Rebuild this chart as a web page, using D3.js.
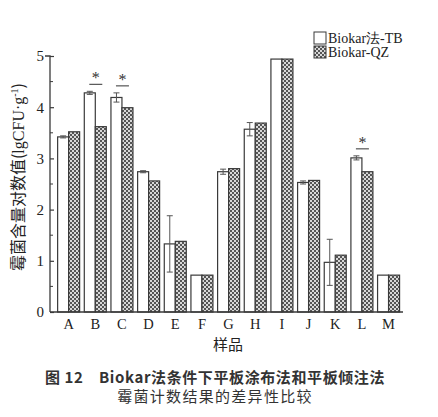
<!DOCTYPE html>
<html><head><meta charset="utf-8">
<script src="https://cdn.jsdelivr.net/npm/d3@7"></script>
<style>body{margin:0;background:#fff}</style>
</head><body>
<svg id="c" width="438" height="417"></svg>
<script>
const categories = ["A","B","C","D","E","F","G","H","I","J","K","L","M"];
const seriesNames = ["Biokar法-TB","Biokar-QZ"];
const tbValues = [3.42,4.28,4.19,2.74,1.33,0.72,2.74,3.57,4.94,2.53,0.97,3.01,0.72];
const tbErrors = [0.02,0.03,0.09,0.02,0.55,0,0.05,0.13,0,0.03,0.45,0.04,0];
const qzValues = [3.52,3.62,3.99,2.56,1.38,0.72,2.80,3.69,4.94,2.57,1.11,2.74,0.72];
const significant = ["B","C","L"];
const yTicks = [0,1,2,3,4,5];
const yMinorTicks = [0.5,1.5,2.5,3.5,4.5];

const svg = d3.select("#c");
const defs = svg.append("defs");
const pat = defs.append("pattern").attr("id","chk").attr("patternUnits","userSpaceOnUse")
  .attr("width",4).attr("height",4);
pat.append("rect").attr("width",4).attr("height",4).attr("fill","#d8d8d8");
pat.append("rect").attr("x",0).attr("y",0).attr("width",2).attr("height",2).attr("fill","#555");
pat.append("rect").attr("x",2).attr("y",2).attr("width",2).attr("height",2).attr("fill","#555");

const axL = 50, axR = 403, axB = 312, axT = 56;
const y = d3.scaleLinear().domain([0,5]).range([axB, axT]);
const x = d3.scaleBand().domain(categories).range([55.3, 401.9]).paddingInner(0).paddingOuter(0);
const bw = 11;
const serif = "'Liberation Serif','DejaVu Serif',serif";
const stroke = "#3a3a3a";

// axes
const yAxis = d3.axisLeft(y).tickValues(yTicks).tickSize(-4).tickPadding(6).tickFormat(d3.format("d"));
const gy = svg.append("g").attr("transform",`translate(${axL},0)`).call(yAxis);
gy.select(".domain").attr("d",`M${-5},${axT}H0V${axB}`).attr("stroke",stroke).attr("stroke-width",1.3);
gy.selectAll(".tick line").attr("stroke",stroke).attr("stroke-width",1.2);
gy.selectAll(".tick text").attr("font-family",serif).attr("font-size",15).attr("fill","#222");
gy.selectAll(".minor").data(yMinorTicks).enter().append("line")
  .attr("x1",0).attr("x2",3).attr("y1",d=>y(d)).attr("y2",d=>y(d)).attr("stroke",stroke).attr("stroke-width",1);

// bars
const g = svg.append("g");
categories.forEach((c,i)=>{
  const cx = x(c) + x.bandwidth()/2;
  g.append("rect").attr("x",cx-bw).attr("y",y(tbValues[i])).attr("width",bw).attr("height",axB-y(tbValues[i]))
    .attr("fill","#fff").attr("stroke",stroke).attr("stroke-width",1.2);
  g.append("rect").attr("x",cx).attr("y",y(qzValues[i])).attr("width",bw).attr("height",axB-y(qzValues[i]))
    .attr("fill","url(#chk)").attr("stroke",stroke).attr("stroke-width",1.2);
  const e = tbErrors[i];
  if (e>0){
    const ex = cx - bw/2;
    g.append("line").attr("x1",ex).attr("x2",ex).attr("y1",y(tbValues[i]+e)).attr("y2",y(tbValues[i]-e)).attr("stroke","#555").attr("stroke-width",1);
    [tbValues[i]+e, tbValues[i]-e].forEach(v=>{
      g.append("line").attr("x1",ex-3).attr("x2",ex+3).attr("y1",y(v)).attr("y2",y(v)).attr("stroke","#555").attr("stroke-width",1);
    });
  }
  if (significant.includes(c)){
    const top = Math.max(tbValues[i]+e, qzValues[i]);
    const ly = y(top) - 7;
    g.append("line").attr("x1",cx-6).attr("x2",cx+7).attr("y1",ly).attr("y2",ly).attr("stroke","#444").attr("stroke-width",1.1);
    g.append("text").attr("x",cx+0.5).attr("y",ly-1).attr("text-anchor","middle").attr("font-family",serif)
      .attr("font-size",16).attr("fill","#333").text("*");
  }
});

// x axis
svg.append("line").attr("x1",axL).attr("x2",axR).attr("y1",axB).attr("y2",axB).attr("stroke",stroke).attr("stroke-width",1.4);
categories.forEach(c=>{
  const cx = x(c)+x.bandwidth()/2;
  svg.append("text").attr("x",cx).attr("y",axB+17).attr("text-anchor","middle").attr("font-family",serif)
    .attr("font-size",14.5).attr("fill","#222").text(c);
});

// axis titles
svg.append("text").attr("x",228).attr("y",350).attr("text-anchor","middle")
  .attr("font-family","'Noto Sans CJK SC',sans-serif").attr("font-size",15).attr("fill","#222").text("样品");
const yl = svg.append("text").attr("transform","translate(24,177) rotate(-90)").attr("text-anchor","middle")
  .attr("font-family","'Noto Sans CJK SC',serif").attr("font-size",16).attr("fill","#222");
yl.append("tspan").text("霉菌含量对数值(");
yl.append("tspan").attr("font-family",serif).text("lgCFU·g");
yl.append("tspan").attr("font-family",serif).attr("font-size",10).attr("dy",-6).text("-1");
yl.append("tspan").attr("dy",6).text(")");

// legend
const leg = svg.append("g");
[["#fff"],["url(#chk)"]].forEach((f,i)=>{
  leg.append("rect").attr("x",314).attr("y",32+i*14).attr("width",12).attr("height",12)
    .attr("fill",f[0]).attr("stroke",stroke).attr("stroke-width",1);
  leg.append("text").attr("x",328).attr("y",43+i*14).attr("font-family",serif).attr("font-size",14)
    .attr("fill","#222").text(seriesNames[i]);
});

// caption
svg.append("text").attr("x",215).attr("y",383).attr("text-anchor","middle")
  .attr("font-family","'Noto Sans CJK SC',sans-serif").attr("font-size",15).attr("font-weight",700).attr("fill","#333")
  .attr("letter-spacing",0.6)
  .text("图 12　Biokar法条件下平板涂布法和平板倾注法");
svg.append("text").attr("x",215).attr("y",402).attr("text-anchor","middle")
  .attr("font-family","'Noto Sans CJK SC',sans-serif").attr("font-size",15).attr("fill","#333")
  .attr("letter-spacing",1.3)
  .text("霉菌计数结果的差异性比较");
</script>
</body></html>
